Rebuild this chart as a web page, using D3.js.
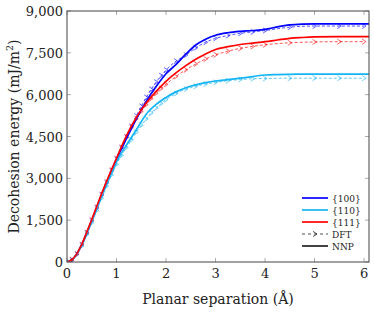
<!DOCTYPE html>
<html>
<head>
<meta charset="utf-8">
<script src="https://cdn.jsdelivr.net/npm/d3@7"></script>
<style>
  body { margin: 0; background: #fff; }
</style>
</head>
<body>
<div id="chart"></div>
<script>
// NNP curves (solid)
const nnpX   = [0, 0.1, 0.2, 0.3, 0.4, 0.5, 0.6, 0.7, 0.8, 0.9, 1.0, 1.2, 1.4, 1.6, 1.8, 2.0, 2.2, 2.4, 2.6, 2.8, 3.0, 3.25, 3.5, 3.75, 4.0, 4.25, 4.5, 4.75, 5.0, 5.5, 6.1];
const nnp100 = [0, 80, 300, 630, 1050, 1490, 1950, 2410, 2850, 3270, 3680, 4420, 5120, 5760, 6290, 6750, 7080, 7450, 7780, 7990, 8130, 8220, 8270, 8300, 8340, 8430, 8500, 8530, 8540, 8540, 8540];
const nnp110 = [0, 80, 290, 610, 1020, 1450, 1900, 2350, 2780, 3190, 3590, 4190, 4740, 5300, 5650, 5900, 6100, 6250, 6350, 6430, 6490, 6540, 6590, 6650, 6705, 6720, 6730, 6735, 6740, 6740, 6740];
const nnp111 = [0, 80, 300, 640, 1070, 1520, 1990, 2450, 2890, 3310, 3720, 4520, 5180, 5700, 6120, 6480, 6780, 7040, 7270, 7460, 7620, 7720, 7800, 7850, 7900, 7960, 8020, 8050, 8070, 8080, 8080];

// DFT points (dashed with markers)
const dftX   = [0, 0.1, 0.2, 0.3, 0.4, 0.5, 0.6, 0.7, 0.8, 0.9, 1.0, 1.1, 1.2, 1.3, 1.4, 1.5, 1.6, 1.7, 1.8, 1.9, 2.0, 2.2, 2.4, 2.6, 2.8, 3.0, 3.25, 3.5, 3.75, 4.0, 4.5, 5.0, 5.5, 6.0];
const dft100 = [0, 70, 280, 610, 1030, 1470, 1930, 2390, 2830, 3260, 3680, 4080, 4470, 4860, 5230, 5580, 5900, 6190, 6450, 6680, 6880, 7200, 7420, 7680, 7880, 8020, 8120, 8200, 8250, 8300, 8420, 8460, 8460, 8460];
const dft110 = [0, 60, 260, 570, 980, 1400, 1850, 2290, 2720, 3120, 3500, 3820, 4100, 4380, 4650, 4900, 5130, 5340, 5520, 5680, 5820, 6040, 6200, 6300, 6380, 6440, 6500, 6540, 6570, 6580, 6590, 6590, 6590, 6590];
const dft111 = [0, 70, 280, 620, 1050, 1500, 1960, 2420, 2870, 3290, 3700, 4110, 4480, 4820, 5130, 5400, 5640, 5860, 6050, 6220, 6370, 6650, 6890, 7100, 7280, 7430, 7560, 7660, 7730, 7790, 7860, 7890, 7900, 7900];

const xTicks = [0, 1, 2, 3, 4, 5, 6];
const yTicks = [0, 1500, 3000, 4500, 6000, 7500, 9000];

const series = [
  { name: "{100}", color: "#0000ff", nnp: nnp100, dft: dft100 },
  { name: "{110}", color: "#14b4f5", nnp: nnp110, dft: dft110 },
  { name: "{111}", color: "#ff0000", nnp: nnp111, dft: dft111 }
];

const width = 374, height = 314;
const margin = { top: 11, right: 5, bottom: 52, left: 67 };
const serif = "DejaVu Serif";

const svg = d3.select("#chart")
  .append("svg")
  .attr("width", width)
  .attr("height", height)
  .style("font-family", serif);

const x = d3.scaleLinear().domain([0, 6.1]).range([margin.left, width - margin.right]);
const y = d3.scaleLinear().domain([0, 9000]).range([height - margin.bottom, margin.top]);

const x0 = margin.left, x1 = width - margin.right;
const y0 = height - margin.bottom, y1 = margin.top;

const plot = svg.append("g");
plot.append("clipPath").attr("id", "clip")
  .append("rect").attr("x", x0).attr("y", y1).attr("width", x1 - x0).attr("height", y0 - y1);

// tick marks (inside, all four sides)
const ticks = svg.append("g").attr("stroke", "#aaa").attr("stroke-width", 1);
xTicks.forEach(t => {
  ticks.append("line").attr("x1", x(t)).attr("x2", x(t)).attr("y1", y0).attr("y2", y0 - 4);
  ticks.append("line").attr("x1", x(t)).attr("x2", x(t)).attr("y1", y1).attr("y2", y1 + 4);
});
yTicks.forEach(t => {
  ticks.append("line").attr("x1", x0).attr("x2", x0 + 4).attr("y1", y(t)).attr("y2", y(t));
  ticks.append("line").attr("x1", x1).attr("x2", x1 - 4).attr("y1", y(t)).attr("y2", y(t));
});

const lineNNP = d3.line()
  .x((d, i) => x(nnpX[i]))
  .y(d => y(d))
  .curve(d3.curveMonotoneX);

const lineDFT = d3.line()
  .x((d, i) => x(dftX[i]))
  .y(d => y(d))
  .curve(d3.curveMonotoneX);

const marker = "M-2,-2.6L2,0L-2,2.6";

const curves = plot.append("g").attr("clip-path", "url(#clip)");

series.forEach(s => {
  curves.append("path")
    .datum(s.dft)
    .attr("fill", "none")
    .attr("stroke", s.color)
    .attr("stroke-opacity", 0.75)
    .attr("stroke-width", 0.9)
    .attr("stroke-dasharray", "3,2")
    .attr("d", lineDFT);

  curves.selectAll(null)
    .data(s.dft)
    .enter()
    .append("path")
    .attr("d", marker)
    .attr("transform", (d, i) => `translate(${x(dftX[i])},${y(d)})`)
    .attr("fill", "none")
    .attr("stroke", s.color)
    .attr("stroke-opacity", 0.75)
    .attr("stroke-width", 0.8);
});

series.forEach(s => {
  curves.append("path")
    .datum(s.nnp)
    .attr("fill", "none")
    .attr("stroke", s.color)
    .attr("stroke-width", 1.7)
    .attr("d", lineNNP);
});

// frame
svg.append("rect")
  .attr("x", x0).attr("y", y1)
  .attr("width", x1 - x0).attr("height", y0 - y1)
  .attr("fill", "none")
  .attr("stroke", "#444")
  .attr("stroke-width", 1);

// tick labels
svg.append("g").selectAll("text")
  .data(xTicks)
  .enter()
  .append("text")
  .attr("x", d => x(d))
  .attr("y", y0 + 16)
  .attr("text-anchor", "middle")
  .attr("fill", "#222")
  .style("font-size", "13px")
  .text(d => d);

svg.append("g").selectAll("text")
  .data(yTicks)
  .enter()
  .append("text")
  .attr("x", x0 - 4)
  .attr("y", d => y(d) + 5)
  .attr("text-anchor", "end")
  .attr("fill", "#222")
  .style("font-size", "13px")
  .text(d => d3.format(",")(d));

// axis titles
svg.append("text")
  .attr("x", (x0 + x1) / 2)
  .attr("y", 304)
  .attr("text-anchor", "middle")
  .attr("fill", "#222")
  .style("font-size", "14px")
  .text("Planar separation (Å)");

const yl = svg.append("text")
  .attr("transform", `translate(19,${(y0 + y1) / 2}) rotate(-90)`)
  .attr("text-anchor", "middle")
  .attr("fill", "#222")
  .style("font-size", "14px");
yl.append("tspan").text("Decohesion energy (mJ/m");
yl.append("tspan").attr("dy", -6).style("font-size", "9.5px").text("2");
yl.append("tspan").attr("dy", 6).text(")");

// legend
const legendItems = [
  { name: "{100}", color: "#0000ff", dash: null, mark: false, w: 1.7 },
  { name: "{110}", color: "#14b4f5", dash: null, mark: false, w: 1.7 },
  { name: "{111}", color: "#ff0000", dash: null, mark: false, w: 1.7 },
  { name: "DFT", color: "#222", dash: "3,3", mark: true, w: 0.8 },
  { name: "NNP", color: "#222", dash: null, mark: false, w: 1.7 }
];
const legend = svg.append("g");
legendItems.forEach((d, i) => {
  const ly = 198 + i * 12;
  legend.append("line")
    .attr("x1", 302).attr("x2", 328)
    .attr("y1", ly).attr("y2", ly)
    .attr("stroke", d.color)
    .attr("stroke-width", d.w)
    .attr("stroke-dasharray", d.dash);
  if (d.mark) {
    legend.append("path")
      .attr("d", marker)
      .attr("transform", `translate(315,${ly})`)
      .attr("fill", "none")
      .attr("stroke", d.color)
      .attr("stroke-width", 0.8);
  }
  legend.append("text")
    .attr("x", 332)
    .attr("y", ly + 3.5)
    .attr("fill", "#222")
    .style("font-size", "9px")
    .text(d.name);
});
</script>
</body>
</html>
